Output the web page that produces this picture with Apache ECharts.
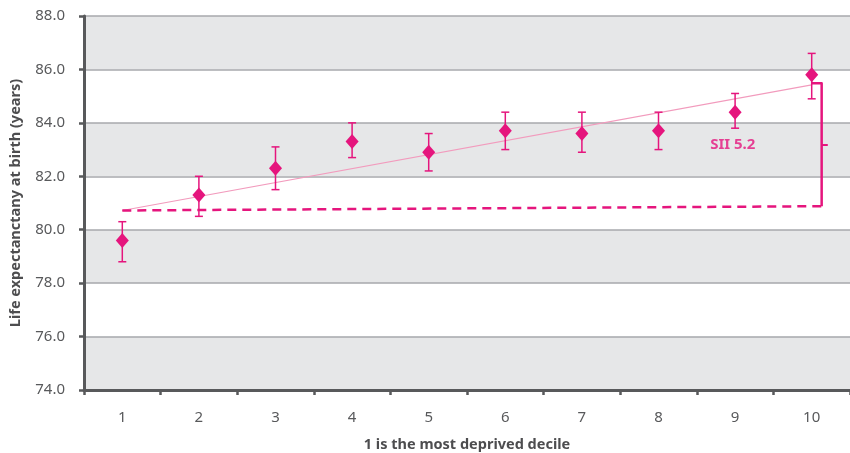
<!DOCTYPE html>
<html>
<head>
<meta charset="utf-8">
<script src="https://cdn.jsdelivr.net/npm/echarts@6/dist/echarts.min.js"></script>
<style>html,body{margin:0;padding:0;background:#fff}#c{width:850px;height:453px}</style>
</head>
<body>
<div id="c"></div>
<script>
var categories = ['1','2','3','4','5','6','7','8','9','10'];
var lifeExpectancy = [79.6, 81.3, 82.3, 83.3, 82.9, 83.7, 83.6, 83.7, 84.4, 85.8];
var ciLower = [78.8, 80.5, 81.5, 82.7, 82.2, 83.0, 82.9, 83.0, 83.8, 84.9];
var ciUpper = [80.3, 82.0, 83.1, 84.0, 83.6, 84.4, 84.4, 84.4, 85.1, 86.6];
var siiLine = [[1, 80.72], [10, 85.42]];
var baseLine = [[1, 80.72], [10.13, 80.88]];
var bracket = [[10, 85.48], [10.13, 85.48], [10.13, 80.88]];
var bracketTick = [[10.13, 83.17], [10.21, 83.17]];
var siiLabel = 'SII 5.2';
var siiLabelPos = [8.97, 83.17];
var yTicks = [74, 76, 78, 80, 82, 84, 86, 88];

var pink = '#e5157d';
var chart = echarts.init(document.getElementById('c'));
var errData = categories.map(function (c, i) { return [i, ciLower[i], ciUpper[i]]; });

chart.setOption({
  animation: false,
  grid: { left: 84, right: 0, top: 16, bottom: 63, outerBoundsMode: 'none', containLabel: false },
  xAxis: [{
    type: 'category', data: categories, boundaryGap: true,
    axisLine: { lineStyle: { color: '#58595b', width: 3 } },
    axisTick: { show: true, length: 5, lineStyle: { color: '#58595b', width: 2.5 } },
    axisLabel: { color: '#58595b', fontSize: 15, fontFamily: 'Noto Sans', margin: 20 },
    name: '1 is the most deprived decile', nameLocation: 'middle', nameGap: 47,
    nameTextStyle: { color: '#4d4d4f', fontSize: 14.5, fontWeight: 'bold', fontFamily: 'Noto Sans' }
  }, {
    type: 'value', min: 0.5, max: 10.5, show: false
  }],
  yAxis: {
    type: 'value', min: yTicks[0], max: yTicks[yTicks.length - 1], interval: 2,
    axisLine: { show: true, lineStyle: { color: '#58595b', width: 3 } },
    axisTick: { show: true, length: 5, lineStyle: { color: '#58595b', width: 2.5 } },
    axisLabel: { color: '#58595b', fontSize: 15, fontFamily: 'Noto Sans', margin: 19,
      formatter: function (v) { return v.toFixed(1); } },
    splitLine: { show: true, lineStyle: { color: '#a7a9ac', width: 1.5 } },
    splitArea: { show: true, areaStyle: { color: ['#e6e7e8', '#ffffff'] } },
    name: 'Life expectanctany at birth (years)', nameLocation: 'middle', nameGap: 61,
    nameTextStyle: { color: '#4d4d4f', fontSize: 14.5, fontWeight: 'bold', fontFamily: 'Noto Sans' }
  },
  series: [
    {
      type: 'line', xAxisIndex: 1, data: siiLine, symbol: 'none',
      lineStyle: { color: '#f29bbd', width: 1.2 }, z: 3
    },
    {
      type: 'line', xAxisIndex: 1, data: baseLine, symbol: 'none',
      lineStyle: { color: pink, width: 2.5, type: [9, 6] }, z: 3
    },
    {
      type: 'line', xAxisIndex: 1, data: bracket, symbol: 'none',
      lineStyle: { color: pink, width: 2.5, join: 'round' }, z: 3
    },
    {
      type: 'line', xAxisIndex: 1, data: bracketTick, symbol: 'none',
      lineStyle: { color: pink, width: 2 }, z: 3
    },
    {
      type: 'custom', xAxisIndex: 0, data: errData, z: 4,
      renderItem: function (params, api) {
        var lo = api.coord([api.value(0), api.value(1)]);
        var hi = api.coord([api.value(0), api.value(2)]);
        var w = 4;
        var st = { stroke: pink, lineWidth: 1.5 };
        return { type: 'group', children: [
          { type: 'line', shape: { x1: lo[0], y1: lo[1], x2: hi[0], y2: hi[1] }, style: st },
          { type: 'line', shape: { x1: lo[0] - w, y1: lo[1], x2: lo[0] + w, y2: lo[1] }, style: st },
          { type: 'line', shape: { x1: hi[0] - w, y1: hi[1], x2: hi[0] + w, y2: hi[1] }, style: st }
        ] };
      }
    },
    {
      type: 'scatter', xAxisIndex: 0, data: lifeExpectancy, symbol: 'diamond',
      symbolSize: [13, 15], itemStyle: { color: pink, opacity: 1 }, z: 5
    },
    {
      type: 'scatter', xAxisIndex: 1, data: [siiLabelPos], symbolSize: 0, z: 6,
      label: { show: true, position: 'inside', formatter: siiLabel, color: pink,
        fontSize: 15, fontWeight: 'bold', fontFamily: 'Noto Sans' }
    }
  ]
});
</script>
</body>
</html>
